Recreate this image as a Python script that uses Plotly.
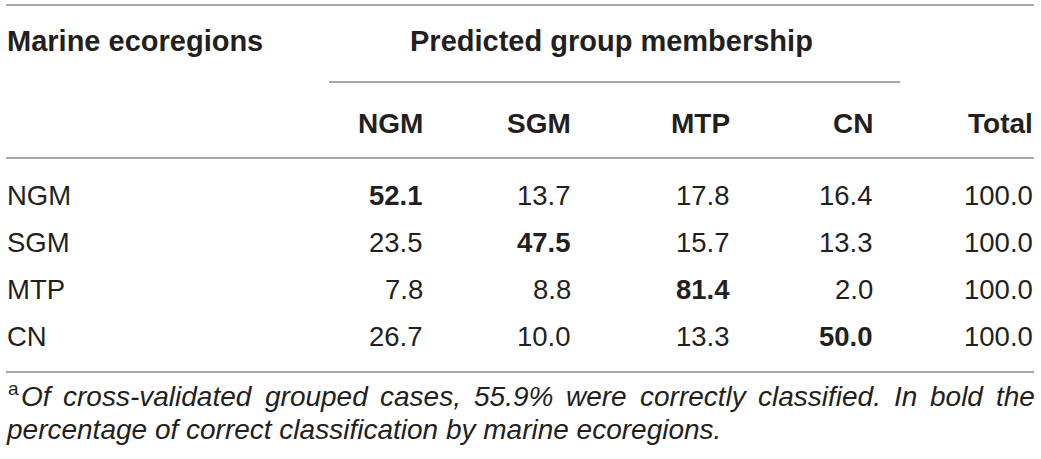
import plotly.graph_objects as go

# --------------------------
# Table content
# --------------------------
REGIONS = ["NGM", "SGM", "MTP", "CN"]
COLUMNS = ["NGM", "SGM", "MTP", "CN", "Total"]
NGM_ROW = [52.1, 13.7, 17.8, 16.4, 100.0]
SGM_ROW = [23.5, 47.5, 15.7, 13.3, 100.0]
MTP_ROW = [7.8, 8.8, 81.4, 2.0, 100.0]
CN_ROW = [26.7, 10.0, 13.3, 50.0, 100.0]
ROWS = [NGM_ROW, SGM_ROW, MTP_ROW, CN_ROW]

STUB_HEADER = "Marine ecoregions"
GROUP_HEADER = "Predicted group membership"
FOOT_MARK = "a"
FOOT_LINE1 = ("Of cross-validated grouped cases, 55.9% were correctly "
              "classified. In bold the")
FOOT_LINE2 = "percentage of correct classification by marine ecoregions."

# --------------------------
# Layout geometry (pixels)
# --------------------------
W, H = 1041, 459
FONT = "Liberation Sans, Arial, Helvetica, sans-serif"
INK = "#231f20"
RULE = "#8a8a8a"
BODY = 27.5
HEAD = 29
FOOT = 28

COL_RIGHT = [423, 571, 730, 873, 1033]
STUB_X = 7
Y_HEAD1 = 41
Y_HEAD2 = 123
ROW_Y0 = 195
ROW_STEP = 47

# Helvetica/Arial advance widths (per 1000 em) for justifying the footnote line
AFM = {" ": 278, "%": 889, ",": 278, "-": 333, ".": 278, "O": 778, "I": 278}
AFM.update({d: 556 for d in "0123456789"})
AFM.update(dict(zip("abcdefghijklmnopqrstuvwxyz",
                    [556, 556, 500, 556, 556, 278, 556, 556, 222, 222, 500, 222, 833,
                     556, 556, 556, 556, 333, 500, 278, 556, 500, 722, 500, 500, 500])))


def text_width(s, size):
    return sum(AFM.get(c, 556) for c in s) * size / 1000.0


fig = go.Figure()


def add_text(text, x, y, xanchor="left", bold=False, italic=False, size=BODY):
    if bold:
        text = f"<b>{text}</b>"
    if italic:
        text = f"<i>{text}</i>"
    fig.add_annotation(
        text=text,
        x=x, y=y, xref="x", yref="y",
        xanchor=xanchor, yanchor="middle",
        showarrow=False, borderpad=0, borderwidth=0,
        font=dict(family=FONT, size=size, color=INK),
    )


def add_rule(x0, x1, y):
    fig.add_shape(type="line", x0=x0, x1=x1, y0=y, y1=y, xref="x", yref="y",
                  line=dict(color=RULE, width=1.6))


# headers
add_text(STUB_HEADER, STUB_X, Y_HEAD1, bold=True, size=HEAD)
add_text(GROUP_HEADER, 611, Y_HEAD1, xanchor="center", bold=True, size=HEAD)
for name, xr in zip(COLUMNS, COL_RIGHT):
    add_text(name, xr, Y_HEAD2, xanchor="right", bold=True, size=28)

# body
for i, (region, row) in enumerate(zip(REGIONS, ROWS)):
    y = ROW_Y0 + i * ROW_STEP
    add_text(region, STUB_X, y)
    for j, (val, xr) in enumerate(zip(row, COL_RIGHT)):
        add_text(f"{val:.1f}", xr, y, xanchor="right", bold=(i == j))

# footnote: superscript mark + justified first line + ragged last line
fig.add_annotation(
    text=FOOT_MARK, x=STUB_X, y=388, xref="x", yref="y",
    xanchor="left", yanchor="middle", showarrow=False, borderpad=0,
    font=dict(family=FONT, size=19, color=INK),
)
words = FOOT_LINE1.split(" ")
x0, x1 = 21, 1035
gap = (x1 - x0 - sum(text_width(w, FOOT) for w in words)) / (len(words) - 1)
xw = x0
for w in words:
    add_text(w, xw, 396, italic=True, size=FOOT)
    xw += text_width(w, FOOT) + gap
add_text(FOOT_LINE2, STUB_X - 1, 429, italic=True, size=FOOT)

# rules
add_rule(6, 1034, 5)
add_rule(329, 900, 82)
add_rule(6, 1034, 158)
add_rule(6, 1034, 372)

fig.update_layout(
    width=W, height=H,
    margin=dict(l=0, r=0, t=0, b=0),
    paper_bgcolor="white", plot_bgcolor="white",
    xaxis=dict(range=[0, W], visible=False, fixedrange=True),
    yaxis=dict(range=[H, 0], visible=False, fixedrange=True),
    showlegend=False,
)

fig.write_html(
    "out.html",
    config={"displayModeBar": False, "staticPlot": True},
    post_script="document.body.style.margin='0px';",
)
